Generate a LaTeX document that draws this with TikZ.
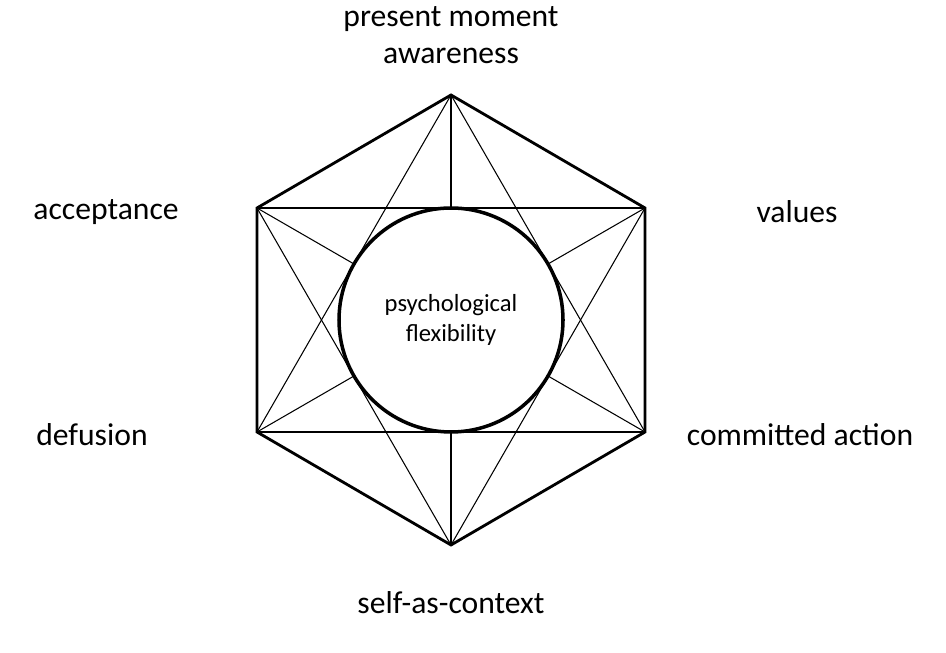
\documentclass[tikz,border=0pt]{standalone}
\usepackage{fontspec}
\setmainfont{Carlito}
\begin{document}
\begin{tikzpicture}
    \tikzset{
      thin line/.style={line width=0.6pt},
      hex line/.style={line width=1.6pt, line join=miter},
      outer label/.style={font=\fontsize{18}{21}\selectfont, align=center},
    }
    \useasboundingbox (0,0) rectangle (18.92,13.06);

    \coordinate (pma) at ( 9.02,11.16);
    \coordinate (val) at (12.90, 8.90);
    \coordinate (com) at (12.90, 4.42);
    \coordinate (sac) at ( 9.02, 2.16);
    \coordinate (def) at ( 5.14, 4.42);
    \coordinate (acc) at ( 5.14, 8.90);

    \foreach \a/\b in {pma/com, pma/sac, pma/def, val/sac, val/def, val/acc, com/def, com/acc, sac/acc}
      \draw[thin line] (\a) -- (\b);

    \draw[hex line] (pma) -- (val) -- (com) -- (sac) -- (def) -- (acc) -- cycle;

    \node[draw, circle, line width=2pt, fill=white, minimum size=4.48cm, align=center,
          font=\fontsize{14}{17}\selectfont] (flex) at (9.02,6.66) {psychological\\flexibility};

    \node[outer label] (pmaL) at ( 9.02,12.36) {present moment\\awareness};
    \node[outer label] (accL) at ( 2.12, 8.82) {acceptance};
    \node[outer label] (valL) at (15.94, 8.82) {values};
    \node[outer label] (defL) at ( 1.84, 4.36) {defusion};
    \node[outer label] (comL) at (16.00, 4.36) {committed action};
    \node[outer label] (sacL) at ( 9.02, 1.00) {self-as-context};
\end{tikzpicture}
\end{document}
